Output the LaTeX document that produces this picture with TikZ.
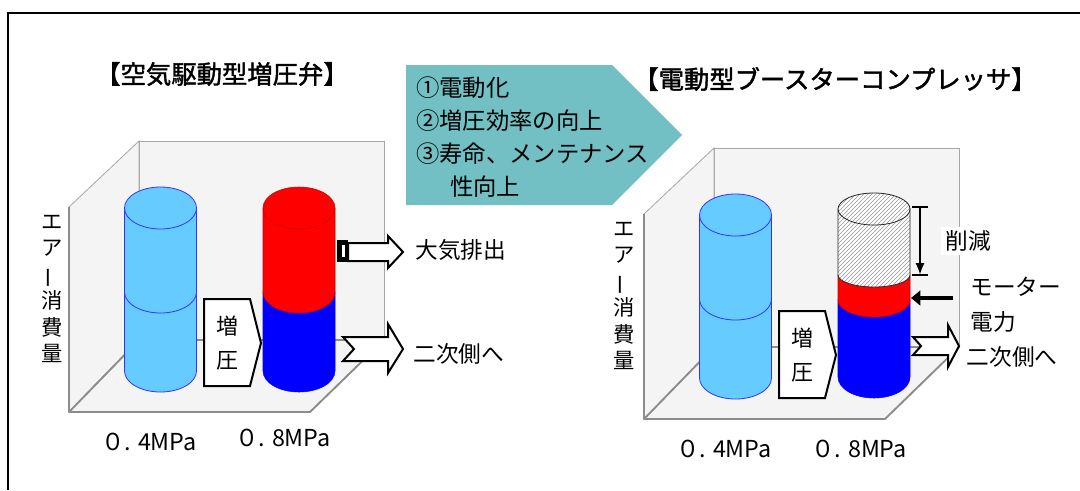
\documentclass[tikz,border=0pt]{standalone}
\usepackage{fontspec}
\setmainfont{Noto Sans CJK JP}
\newfontfamily\ttlfont[BoldFont={Noto Sans CJK JP}, BoldFeatures={FakeBold=1.6}]{Noto Sans CJK JP}
\usetikzlibrary{arrows.meta,patterns,positioning}

\definecolor{wallfill}{HTML}{F4F4F4}
\definecolor{walledge}{HTML}{A6A6A6}
\definecolor{flooredge}{HTML}{8C8C8C}
\definecolor{lowair}{HTML}{66CCFF}
\definecolor{lowrim}{HTML}{3333FF}
\definecolor{hiair}{HTML}{0000FF}
\definecolor{ventair}{HTML}{FF0000}
\definecolor{gainfill}{HTML}{72BFC4}

\newcommand{\cylr}{36}
% one slice of a column: style, centre x, top y, bottom y, radius of the lower rim
\newcommand{\cylpart}[5]{\path[#1] (#2-\cylr,#3) -- (#2-\cylr,#4) arc[start angle=180, end angle=0, x radius=\cylr, y radius=#5] -- (#2+\cylr,#3) -- cycle;}
% top face of a column
\newcommand{\cyltop}[4]{\path[#1] (#2,#3) ellipse[x radius=\cylr, y radius=#4];}

\tikzset{
  wall/.style={fill=wallfill, draw=walledge, line width=0.6pt},
  floorline/.style={draw=flooredge, line width=1.4pt, line join=round},
  lowpart/.style={fill=lowair, draw=lowrim, line width=0.6pt},
  hipart/.style={fill=hiair, draw=hiair, line width=0.4pt},
  ventpart/.style={fill=ventair, draw=ventair!80!black, line width=0.4pt},
  hatchpart/.style={preaction={fill=white}, pattern=north east lines, pattern color=gray!80, draw=black!85, line width=0.6pt},
  blockarrow/.style={fill=white, draw=black, line width=1.5pt, line join=miter},
  ttl/.style={font=\ttlfont\fontsize{19}{22}\selectfont\bfseries},
  txt/.style={font=\fontsize{17}{20}\selectfont, inner sep=1pt},
  gain/.style={font=\fontsize{17.5}{20}\selectfont, inner sep=0pt},
  boosttxt/.style={font=\fontsize{16.5}{25.5}\selectfont, align=center, inner sep=0pt},
  mpa/.style={font=\fontsize{17.5}{20}\selectfont, inner sep=0pt},
  ylab/.style={font=\fontsize{16}{19.8}\selectfont, align=center, inner sep=0pt},
  cutline/.style={line width=1.8pt},
}

\begin{document}
\begin{tikzpicture}[x=0.75pt, y=-0.75pt]
\useasboundingbox (0,0) rectangle (1080,490);
\fill[white] (0,0) rectangle (1080,490);
%\draw[help lines, step=20] (0,0) grid (1080,490);
\draw[line width=1.5pt] (7.5,490) -- (7.5,12.5) -- (1080,12.5);

% chart box and 0.4MPa column, same in both panels
\foreach \px/\py in {0/0, 575/7} {
  \begin{scope}[shift={(\px,\py)}]
    \filldraw[wall] (139,141) rectangle (384,340);
    \filldraw[wall] (69,207) -- (139,141) -- (139,340) -- (69,412) -- cycle;
    \filldraw[wall] (69,412) -- (310,412) -- (384,340) -- (139,340) -- cycle;
    \draw[floorline] (69,207) -- (69,412) -- (310,412) -- (384,340) -- (139,340) -- (69,412);
    \cylpart{lowpart}{160.5}{292}{371}{21}
    \cylpart{lowpart}{160.5}{208}{292}{21}
    \cyltop{lowpart}{160.5}{208}{21}
  \end{scope}
}

% ---- left panel
\node[ttl] (titleL) at (222,74) {【空気駆動型増圧弁】};
\node[ylab] (yaxisL) at (52,289) {エ\\ア\\\rotatebox[origin=c]{90}{ー}\\消\\費\\量};
\cylpart{hipart}{299}{292}{371}{21}
\cylpart{ventpart}{299}{208}{292}{21}
\cyltop{ventpart}{299}{208}{21}
\filldraw[blockarrow] (204,299) -- (250,299) -- (261,343) -- (250,386) -- (204,386) -- cycle;
\node[boosttxt] (boostL) at (227,343) {増\\圧};
% exhaust with silencer
\filldraw[blockarrow] (348,243) -- (388,243) -- (388,236) -- (403,252) -- (388,268) -- (388,261) -- (348,261) -- cycle;
\fill (337,240) rectangle (348,262);
\fill[white] (342,245) rectangle (344.5,257);
\node[txt, anchor=west] (ventL) at (414,250) {大気排出};
\filldraw[blockarrow] (343,337) -- (388,337) -- (388,324) -- (403,349) -- (388,373) -- (388,361) -- (343,361) -- (354,349) -- cycle;
\node[txt, anchor=west] (outL) at (412,354) {二次側へ};
\node[mpa] (lowL) at (149,442) {０. 4MPa};
\node[mpa] (highL) at (283,438) {０. 8MPa};

% ---- improvements
\fill[gainfill] (406,65) -- (612,65) -- (682,135) -- (612,205) -- (406,205) -- cycle;
\foreach \t [count=\i] in {①電動化,②増圧効率の向上,③寿命、メンテナンス}
  \node[gain, anchor=west] (gain\i) at (416,55+33*\i) {\t};
\node[gain, anchor=west] (gain4) at (450,187) {性向上};

% ---- right panel
\node[ttl] (titleR) at (835,79) {【電動型ブースターコンプレッサ】};
\node[ylab] (yaxisR) at (624,296) {エ\\ア\\\rotatebox[origin=c]{90}{ー}\\消\\費\\量};
\cylpart{hipart}{874}{300}{377}{21}
\cylpart{ventpart}{874}{275}{300}{17}
\cylpart{hatchpart}{874}{209}{275}{12}
\cyltop{hatchpart}{874}{209}{16}
\filldraw[blockarrow] (779,311) -- (825,311) -- (836,355) -- (825,398) -- (779,398) -- cycle;
\node[boosttxt] (boostR) at (802,355) {増\\圧};

\coordinate (cutTop) at (920,206);
\coordinate (cutBot) at (920,275);
\draw[cutline, {Bar[width=12pt]}-{Latex[length=9pt,width=7pt]}] (cutTop) -- (cutBot);
\draw[cutline] ([xshift=-6pt]cutBot) -- ([xshift=6pt]cutBot);
\node[txt, fill=white, inner sep=3pt] (cutL) at (968,241) {削減};

\coordinate (motorTail) at (953,298);
\coordinate (motorIn) at (911,298);
\draw[line width=3pt, -{Triangle[length=7pt,width=11pt]}] (motorTail) -- (motorIn);
\node[txt, align=left, anchor=west, font=\fontsize{17}{26}\selectfont] (motorL) at (969,305) {モーター\\電力};

\filldraw[blockarrow] (913,337) -- (948,337) -- (948,325) -- (959,346) -- (948,367) -- (948,355) -- (913,355) -- (921,346) -- cycle;
\node[txt] (outR) at (1012,357) {二次側へ};
\node[mpa] (lowR) at (724,449) {０. 4MPa};
\node[mpa] (highR) at (859,449) {０. 8MPa};
\end{tikzpicture}
\end{document}
